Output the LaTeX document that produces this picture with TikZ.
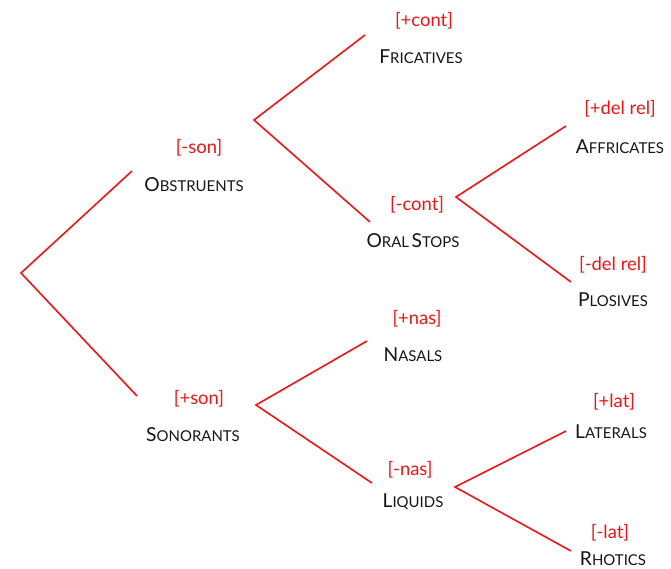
\documentclass[tikz,border=0pt]{standalone}
\usepackage{fontspec}
\setmainfont{Lato}
\definecolor{featred}{RGB}{240,20,20}
\definecolor{catink}{RGB}{20,20,25}
% small-caps style category name: large initial, smaller uppercase rest
\newcommand{\catname}[1]{{\fontsize{19.3}{19.3}\selectfont#1}}
\newcommand{\smc}[1]{{\fontsize{15}{15}\selectfont#1}}
\tikzset{
  feat/.style={text=featred, font=\fontsize{18.5}{18.5}\selectfont, inner sep=0pt},
  cat/.style={text=catink, inner sep=0pt},
  branch/.style={draw=featred, line width=1.6pt}
}
\begin{document}
\begin{tikzpicture}[x=1bp,y=-1bp]
\useasboundingbox (0,0) rectangle (671,569);

% branching points and branch ends
\coordinate (root) at (21,273);
\coordinate (obsEnd) at (132,171);
\coordinate (sonEnd) at (137,396);
\coordinate (obsV) at (254,120);
\coordinate (friEnd) at (365,35);
\coordinate (stopEnd) at (370,222);
\coordinate (stopV) at (456,197);
\coordinate (affEnd) at (566,126);
\coordinate (ploEnd) at (571,282);
\coordinate (sonV) at (256,405);
\coordinate (nasEnd) at (367,341);
\coordinate (liqEnd) at (372,483);
\coordinate (liqV) at (455,487);
\coordinate (latEnd) at (566,431);
\coordinate (rhoEnd) at (571,551);

% feature labels
\node[feat] (fson)  at (199,148) {[-son]};
\node[feat] (fsonp) at (199,399) {[+son]};
\node[feat] (fcont) at (424,21)  {[+cont]};
\node[feat] (fcnt)  at (417,205) {[-cont]};
\node[feat] (fdr)   at (620,109) {[+del rel]};
\node[feat] (fdrm)  at (613,265) {[-del rel]};
\node[feat] (fnas)  at (417,319) {[+nas]};
\node[feat] (fnasm) at (410,470) {[-nas]};
\node[feat] (flat)  at (614,402) {[+lat]};
\node[feat] (flatm) at (610,533) {[-lat]};

% category names
\node[cat] (obs)  at (194,185) {\catname{O}\smc{BSTRUENTS}};
\node[cat] (son)  at (193,435) {\catname{S}\smc{ONORANTS}};
\node[cat] (fri)  at (421,57)  {\catname{F}\smc{RICATIVES}};
\node[cat] (ost)  at (413,241) {\catname{O}\smc{RAL} \catname{S}\smc{TOPS}};
\node[cat] (aff)  at (620,147) {\catname{A}\smc{FFRICATES}};
\node[cat] (plo)  at (613,300) {\catname{P}\smc{LOSIVES}};
\node[cat] (nas)  at (413,355) {\catname{N}\smc{ASALS}};
\node[cat] (liq)  at (413,502) {\catname{L}\smc{IQUIDS}};
\node[cat] (lat)  at (611,432) {\catname{L}\smc{ATERALS}};
\node[cat] (rho)  at (613,559) {\catname{R}\smc{HOTICS}};

% tree branches
\draw[branch] (obsEnd) -- (root) -- (sonEnd);
\draw[branch] (friEnd) -- (obsV) -- (stopEnd);
\draw[branch] (affEnd) -- (stopV) -- (ploEnd);
\draw[branch] (nasEnd) -- (sonV) -- (liqEnd);
\draw[branch] (latEnd) -- (liqV) -- (rhoEnd);
\end{tikzpicture}
\end{document}
